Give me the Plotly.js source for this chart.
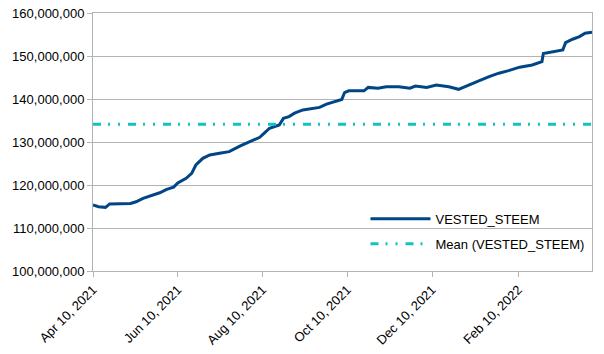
<!DOCTYPE html>
<html>
<head>
<meta charset="utf-8">
<script src="https://cdn.plot.ly/plotly-3.0.1.min.js"></script>
<style>
html,body{margin:0;padding:0;background:#fff;}
#chart{width:604px;height:354px;}
</style>
</head>
<body>
<div id="chart"></div>
<script>
const dates = [
  '2021-04-10','2021-04-14','2021-04-19','2021-04-22','2021-05-07','2021-05-11','2021-05-16','2021-05-21',
  '2021-05-28','2021-06-02','2021-06-07','2021-06-10','2021-06-16','2021-06-20','2021-06-23','2021-06-28',
  '2021-07-03','2021-07-10','2021-07-17','2021-07-25','2021-08-01','2021-08-08','2021-08-11','2021-08-15',
  '2021-08-22','2021-08-25','2021-08-29','2021-09-02','2021-09-08','2021-09-15','2021-09-20','2021-09-25',
  '2021-10-02','2021-10-06','2021-10-08','2021-10-11','2021-10-22','2021-10-25','2021-11-01','2021-11-07',
  '2021-11-16','2021-11-24','2021-11-28','2021-12-06','2021-12-13','2021-12-22','2021-12-29','2022-01-06',
  '2022-01-13','2022-01-20','2022-01-27','2022-02-03','2022-02-11','2022-02-20','2022-02-27','2022-02-28',
  '2022-03-06','2022-03-14','2022-03-16','2022-03-21','2022-03-26','2022-03-30','2022-04-04'
];
const vestedSteem = [
  115350000,114950000,114800000,115600000,115700000,116100000,116900000,117400000,
  118200000,119000000,119500000,120500000,121550000,122700000,124650000,126200000,
  127000000,127400000,127750000,129100000,130100000,131100000,132000000,133200000,
  133950000,135500000,135900000,136700000,137450000,137800000,138050000,138800000,
  139400000,139900000,141500000,141900000,141900000,142700000,142500000,142850000,
  142850000,142500000,143000000,142700000,143250000,142850000,142250000,143250000,
  144250000,145200000,146000000,146600000,147400000,147900000,148700000,150600000,
  151000000,151400000,153100000,153900000,154500000,155300000,155500000
];
const meanValue = 134100000;
const meanDates = ['2021-04-10','2022-04-04'];
const tickDates = ['2021-04-10','2021-06-10','2021-08-10','2021-10-10','2021-12-10','2022-02-10'];
const tickLabels = ['Apr 10, 2021','Jun 10, 2021','Aug 10, 2021','Oct 10, 2021','Dec 10, 2021','Feb 10, 2022'];
const yTicks = [100000000,110000000,120000000,130000000,140000000,150000000,160000000];
const yTickLabels = ['100,000,000','110,000,000','120,000,000','130,000,000','140,000,000','150,000,000','160,000,000'];

const traces = [
  {x: dates, y: vestedSteem, type:'scatter', mode:'lines', name:'VESTED_STEEM', legendgroup:'a',
   line:{color:'#004586', width:3}},
  {x: meanDates, y: [meanValue, meanValue], type:'scatter', mode:'lines', name:'Mean (VESTED_STEEM)', legendgroup:'b',
   line:{color:'#10c2c2', width:3, dash:'8px,7px,2px,8px,2px,8px'}}
];
const layout = {
  width:604, height:354,
  margin:{l:93, r:12, t:13, b:83},
  paper_bgcolor:'#fff', plot_bgcolor:'#fff',
  font:{family:'Liberation Sans, Arial, sans-serif', size:13, color:'#000'},
  showlegend:true,
  legend:{x:0.995, y:0.26, xanchor:'right', yanchor:'top', bgcolor:'rgba(0,0,0,0)',
          font:{size:13, color:'#000'}, tracegroupgap:5, itemwidth:60, borderwidth:0},
  xaxis:{type:'date', range:['2021-04-10','2022-04-04'], tickmode:'array',
         tickvals:tickDates, ticktext:tickLabels, tickangle:-45,
         showgrid:false, showline:true, linecolor:'#b3b3b3', linewidth:1, mirror:true,
         ticks:'outside', ticklen:5, tickcolor:'#b3b3b3', zeroline:false, automargin:false,
         tickfont:{size:13, color:'#000'}},
  yaxis:{range:[100000000,160000000], tickmode:'array', tickvals:yTicks, ticktext:yTickLabels,
         showgrid:true, gridcolor:'#b3b3b3', gridwidth:1,
         showline:true, linecolor:'#b3b3b3', linewidth:1, mirror:true,
         ticks:'outside', ticklen:5, tickcolor:'#b3b3b3', zeroline:false, automargin:false,
         tickfont:{size:13, color:'#000'}}
};
Plotly.newPlot('chart', traces, layout, {staticPlot:true, displayModeBar:false});
</script>
</body>
</html>
